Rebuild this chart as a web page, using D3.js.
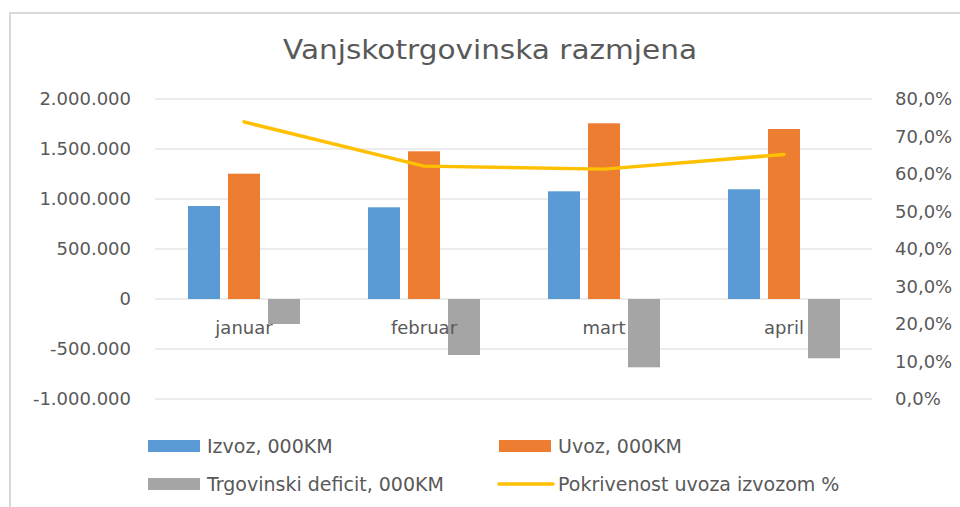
<!DOCTYPE html>
<html>
<head>
<meta charset="utf-8">
<script src="https://cdn.jsdelivr.net/npm/d3@7"></script>
<style>
  body { margin: 0; background: #fff; }
  text { font-family: "DejaVu Sans", sans-serif; fill: #595959; }
</style>
</head>
<body>
<svg id="chart" width="960" height="507"></svg>
<script>
// data
const months = ['januar', 'februar', 'mart', 'april'];
const izvoz = [930000, 917000, 1077000, 1097000];
const uvoz = [1253000, 1477000, 1757000, 1700000];
const deficit = [-250000, -560000, -683000, -593000];
const pokrivenost = [0.739, 0.621, 0.613, 0.652];
const leftTicks = [-1000000, -500000, 0, 500000, 1000000, 1500000, 2000000];
const rightTicks = [0, 0.1, 0.2, 0.3, 0.4, 0.5, 0.6, 0.7, 0.8];

const seriesNames = ['Izvoz, 000KM', 'Uvoz, 000KM', 'Trgovinski deficit, 000KM'];
const seriesColors = ['#5B9BD5', '#ED7D31', '#A5A5A5'];
const lineName = 'Pokrivenost uvoza izvozom %';
const lineColor = '#FFC000';

const locale = d3.formatLocale({ decimal: ',', thousands: '.', grouping: [3], currency: ['', ''], minus: '-' });
const fmtLeft = locale.format(',.0f');
const fmtRight = locale.format('.1%');

const svg = d3.select('#chart');

// outer frame
svg.append('path')
    .attr('d', 'M10,970 L10,13 L970,13')
    .attr('fill', 'none')
    .attr('stroke', '#D9D9D9')
    .attr('stroke-width', 2);

svg.append('text')
    .attr('x', 490)
    .attr('y', 59)
    .attr('text-anchor', 'middle')
    .attr('textLength', 414)
    .attr('lengthAdjust', 'spacingAndGlyphs')
    .style('font-size', '26px')
    .text('Vanjskotrgovinska razmjena');

const x = d3.scaleBand().domain(months).range([154, 874]);
const xs = d3.scaleBand().domain(d3.range(3)).range([-60, 60]).paddingInner(0.2).paddingOuter(0.1);
const y = d3.scaleLinear().domain([-1000000, 2000000]).range([399, 99]);
const y2 = d3.scaleLinear().domain([0, 0.8]).range([399, 99]);

// gridlines
svg.append('g')
    .selectAll('line')
    .data(leftTicks)
    .join('line')
    .attr('x1', 155).attr('x2', 872)
    .attr('y1', d => y(d)).attr('y2', d => y(d))
    .attr('stroke', '#D9D9D9')
    .attr('stroke-width', 1);

// left axis
const left = svg.append('g')
    .attr('transform', 'translate(131,0)')
    .call(d3.axisLeft(y).tickValues(leftTicks).tickFormat(fmtLeft).tickSize(0).tickPadding(0));
left.select('.domain').remove();
left.selectAll('text').style('font-size', '18px').attr('fill', '#595959');

// right axis
const right = svg.append('g')
    .attr('transform', 'translate(895,0)')
    .call(d3.axisRight(y2).tickValues(rightTicks).tickFormat(fmtRight).tickSize(0).tickPadding(0));
right.select('.domain').remove();
right.selectAll('text').style('font-size', '18px').attr('fill', '#595959');

const seriesData = [izvoz, uvoz, deficit];
seriesData.forEach((vals, s) => {
    svg.append('g')
        .selectAll('rect')
        .data(vals)
        .join('rect')
        .attr('x', (d, i) => x(months[i]) + x.bandwidth() / 2 + xs(s))
        .attr('width', xs.bandwidth())
        .attr('y', d => y(Math.max(0, d)))
        .attr('height', d => Math.abs(y(d) - y(0)))
        .attr('fill', seriesColors[s]);
});

// category labels
svg.append('g')
    .selectAll('text')
    .data(months)
    .join('text')
    .attr('x', d => x(d) + x.bandwidth() / 2)
    .attr('y', 334)
    .attr('text-anchor', 'middle')
    .style('font-size', '18px')
    .text(d => d);

const line = d3.line()
    .x((d, i) => x(months[i]) + x.bandwidth() / 2)
    .y(d => y2(d));

svg.append('path')
    .datum(pokrivenost)
    .attr('d', line)
    .attr('fill', 'none')
    .attr('stroke', lineColor)
    .attr('stroke-width', 3.5)
    .attr('stroke-linecap', 'round')
    .attr('stroke-linejoin', 'round');

// legend
const legendItems = [
    { name: seriesNames[0], color: seriesColors[0], type: 'rect', x: 148, y: 446 },
    { name: seriesNames[1], color: seriesColors[1], type: 'rect', x: 499, y: 446 },
    { name: seriesNames[2], color: seriesColors[2], type: 'rect', x: 148, y: 484 },
    { name: lineName, color: lineColor, type: 'line', x: 499, y: 484 }
];
const legend = svg.append('g')
    .selectAll('g')
    .data(legendItems)
    .join('g')
    .attr('transform', d => `translate(${d.x},${d.y})`);
legend.filter(d => d.type === 'rect').append('rect')
    .attr('x', 0).attr('y', -6).attr('width', 52).attr('height', 12)
    .attr('fill', d => d.color);
legend.filter(d => d.type === 'line').append('line')
    .attr('x1', 0).attr('x2', 54).attr('y1', 0).attr('y2', 0)
    .attr('stroke', d => d.color).attr('stroke-width', 3.5).attr('stroke-linecap', 'round');
legend.append('text')
    .attr('x', 59)
    .attr('y', 7)
    .style('font-size', '19px')
    .text(d => d.name);
</script>
</body>
</html>
